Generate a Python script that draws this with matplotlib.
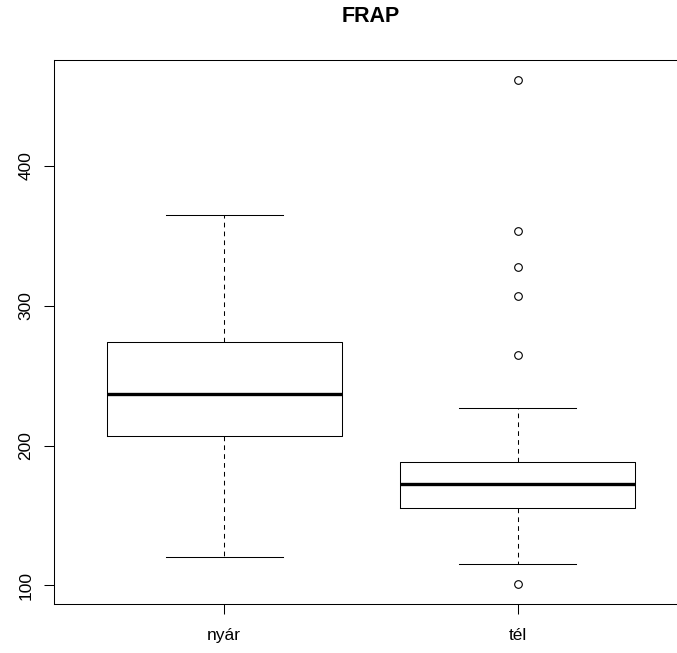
import matplotlib
matplotlib.use('Agg')
import matplotlib.pyplot as plt

plt.rcParams['font.family'] = ['Liberation Sans', 'DejaVu Sans']

groups = ['nyár', 'tél']
whislo = [120.5, 115.0]
q1 = [206.5, 155.0]
med = [236.7, 172.3]
q3 = [274.0, 188.0]
whishi = [365.0, 226.7]
fliers = [[], [101.0, 264.5, 307.0, 327.5, 353.5, 461.5]]

stats = []
for i, g in enumerate(groups):
    stats.append({'label': g, 'whislo': whislo[i], 'q1': q1[i], 'med': med[i],
                  'q3': q3[i], 'whishi': whishi[i], 'fliers': fliers[i]})

fig = plt.figure(figsize=(6.77, 6.53), dpi=100)
ax = fig.add_axes([54 / 677, 49 / 653, 634 / 677, 544 / 653])

lw = 0.75
ax.bxp(stats, positions=[1, 2], widths=0.8, showfliers=True,
       boxprops=dict(color='black', linewidth=lw),
       medianprops=dict(color='black', linewidth=2.4, solid_capstyle='butt'),
       whiskerprops=dict(color='black', linewidth=lw, linestyle=(0, (4.5, 4))),
       capprops=dict(color='black', linewidth=lw),
       capwidths=0.4,
       flierprops=dict(marker='o', markerfacecolor='none', markeredgecolor='black',
                       markersize=5.5, markeredgewidth=0.8))

ax.set_xlim(0.42, 2.58)
ax.set_ylim(86.6, 475.9)
ax.set_yticks([100, 200, 300, 400])
ax.set_yticklabels(['100', '200', '300', '400'], rotation=90, va='center')
ax.set_xticks([1, 2])
ax.set_xticklabels(groups)
ax.tick_params(direction='out', length=7, width=lw, labelsize=12.5, colors='black')
ax.tick_params(axis='y', pad=8)
ax.tick_params(axis='x', pad=10.5)
for s in ax.spines.values():
    s.set_linewidth(lw)
    s.set_color('black')

fig.text(371 / 677, 1 - 16 / 653, 'FRAP', ha='center', va='center',
         fontsize=15.5, fontweight='bold')

fig.savefig('out.png', dpi=100)
